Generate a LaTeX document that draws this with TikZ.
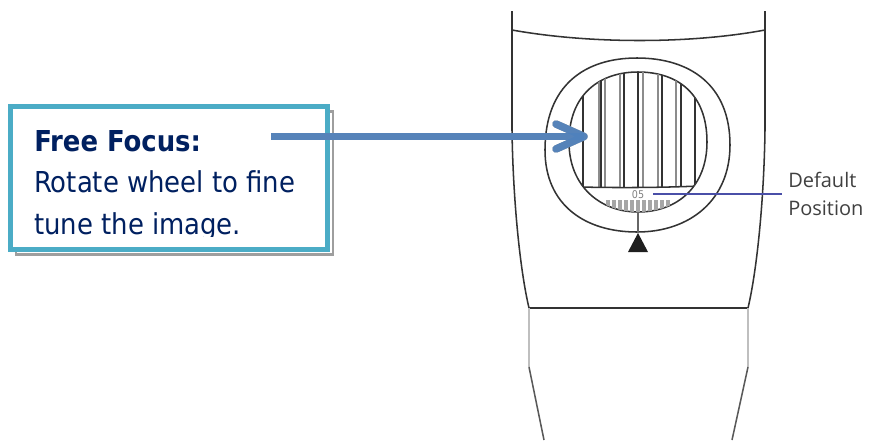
\documentclass[tikz,border=0pt]{standalone}
\usepackage{fontspec}
\setmainfont{DejaVu Sans Condensed}
\newfontfamily\legendefont{Open Sans}
\definecolor{turquoise}{HTML}{4BACC6}
\definecolor{bleufleche}{HTML}{4F81BD}
\definecolor{marine}{HTML}{002060}
\definecolor{trait}{HTML}{333333}
\definecolor{repere}{HTML}{4A4FA8}
\begin{document}
\begin{tikzpicture}[x=0.75pt,y=-0.75pt]
	% Styles
	\tikzstyle{contour}=[trait,line width=1.15pt]
	\tikzstyle{contourpale}=[gray!50,line width=2pt]
	\tikzstyle{cadre}=[draw=turquoise,line width=3.75pt,fill=white,minimum width=237.75pt,minimum height=107.25pt,inner sep=0pt]
	\tikzstyle{ombre}=[draw=black!38,line width=2.2pt,fill=white,minimum width=237.75pt,minimum height=107.25pt,inner sep=0pt]
	\tikzstyle{texte}=[marine,font=\fontsize{21.6}{24}\selectfont,anchor=base west,inner sep=0pt]
	\tikzstyle{fleche}=[bleufleche,line width=5.6pt,opacity=.9]
	\tikzstyle{flecheombre}=[black!38,line width=5.6pt]
	\tikzstyle{rayure}=[black!45,line width=2.2pt]
	\tikzstyle{legende}=[black!75,font=\legendefont\fontsize{15}{15}\selectfont,anchor=base west,inner sep=0pt]
	% Dimensions
	\def\ContourMolette{(569,142) .. controls (569,94) and (600,72) .. (638,72) .. controls (678,72) and (707,94) .. (707,142) .. controls (707,186) and (678,212) .. (638,212) .. controls (600,212) and (569,186) .. (569,142) -- cycle}
	\useasboundingbox (0,0) rectangle (879,440);
	% Corps
	\draw[contour] (512,11) -- (512,130) .. controls (513,200) and (520,270) .. (529,308) -- (748,308) .. controls (757,270) and (764,200) .. (765,130) -- (765,11);
	\draw[contour] (512,30) .. controls (590,44) and (690,44) .. (765,30);
	\draw[contourpale] (529,308) -- (529,367);
	\draw[contourpale] (748,308) -- (748,367);
	\draw[contour,black!65] (529,367) -- (544,440);
	\draw[contour,black!65] (748,367) -- (732,440);
	% Molette
	\draw[contour] (545,150) .. controls (545,85) and (585,58) .. (637,58) .. controls (690,58) and (730,85) .. (730,145) .. controls (730,200) and (690,232) .. (637,232) .. controls (585,232) and (545,205) .. (545,150) -- cycle;
	\draw[contour] \ContourMolette;
	\begin{scope}
		\clip \ContourMolette;
		\foreach \x in {599,605,620,643,658,676,695}
			\draw[rayure] (\x,60) -- (\x,187);
		\foreach \x in {583,601,624,638,662,681,695}
			\draw[contour] (\x,60) -- (\x,187);
		\draw[contour] (560,186.5) .. controls (610,188) and (660,188) .. (710,185.5);
		\foreach \x in {608,614,...,668}
			\draw[rayure,black!35,line width=2.6pt] (\x,200) -- (\x,214);
	\end{scope}
	\node[black!50,font=\fontsize{8}{8}\selectfont,inner sep=0pt] (graduation) at (638,195) {05};
	% Repere
	\coordinate (basmolette) at (638,212);
	\coordinate (pointe) at (638,233);
	\draw[contour,black!60] (basmolette) -- (pointe);
	\fill[black!88] (pointe) -- (648,252) -- (628,252) -- cycle;
	% Legende
	\node[legende] (defaut) at (788,187) {Default};
	\node[legende] (position) at (788,215) {Position};
	\coordinate (departrepere) at (653,194);
	\coordinate (finrepere) at (782,194);
	\draw[repere,line width=0.9pt] (departrepere) -- (finrepere);
	% Encadre
	\node[ombre] (ombrecadre) at (174.5,183) {};
	\node[cadre] (encadre) at (168.5,178) {};
	\begin{scope}
		\clip (13,109) rectangle (325,236);
		\node[texte,font=\fontsize{21.6}{24}\selectfont\bfseries] (titre) at (34,151) {Free Focus:};
		\node[texte] (ligneA) at (34,192) {Rotate wheel to fine};
		\node[texte] (ligneB) at (34,234) {tune the image.};
	\end{scope}
	% Fleche
	\coordinate (depart) at (271,136.5);
	\coordinate (bout) at (584,136.5);
	\coordinate (barbeA) at (556,124);
	\coordinate (barbeB) at (556,149);
	\begin{scope}[shift={(1,5)}]
		\draw[flecheombre,line join=round,line cap=round] (barbeA) -- (bout) -- (barbeB);
		\draw[flecheombre] (depart) -- (bout);
	\end{scope}
	\draw[fleche,line join=round,line cap=round] (barbeA) -- (bout) -- (barbeB);
	\draw[fleche] (depart) -- (bout);
\end{tikzpicture}
\end{document}
